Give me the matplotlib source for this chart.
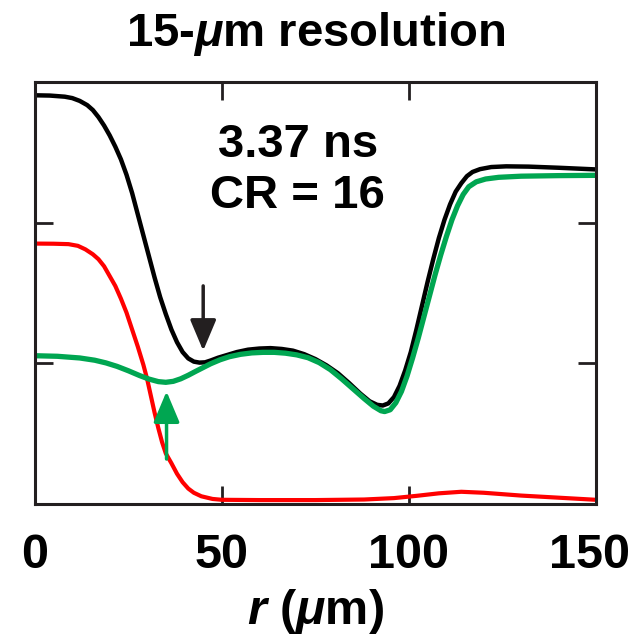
import matplotlib.pyplot as plt
import matplotlib.transforms as mtransforms

# radius (um) and profile values
r_black = [0, 4, 8, 10, 12, 14, 15.5, 17, 18.5, 20, 21.5, 23, 24.5, 26, 27.5, 29, 30.5, 32, 33.5,
           35, 36.5, 38, 39.5, 41, 42.5, 44, 45.5, 47, 49, 51.5, 54, 57, 60, 63, 66, 69, 72, 75,
           78, 81, 84, 87, 89.5, 91.5, 93, 94.5, 96, 97.5, 99, 100.5, 102, 103.5, 105, 106.5, 108,
           109.5, 111, 112.5, 114, 115.5, 117, 119, 122, 126, 132, 140, 150]
y_black = [2.905, 2.903, 2.895, 2.885, 2.865, 2.835, 2.80, 2.75, 2.69, 2.62, 2.54, 2.45, 2.34,
           2.21, 2.06, 1.91, 1.76, 1.61, 1.47, 1.35, 1.24, 1.15, 1.08, 1.035, 1.012, 1.005, 1.007,
           1.02, 1.04, 1.06, 1.08, 1.097, 1.105, 1.108, 1.102, 1.09, 1.065, 1.03, 0.985, 0.93,
           0.86, 0.785, 0.73, 0.705, 0.70, 0.715, 0.76, 0.84, 0.95, 1.08, 1.24, 1.41, 1.58, 1.74,
           1.89, 2.02, 2.13, 2.22, 2.28, 2.33, 2.36, 2.38, 2.395, 2.40, 2.398, 2.39, 2.378]

r_red = [0, 5, 9, 11.5, 13.5, 15.5, 17, 18.5, 20, 21.5, 23, 24.5, 26, 27.5, 29, 30, 31, 32, 33,
         34, 35, 36.5, 38, 39.5, 41, 42.5, 44.5, 47.5, 50, 60, 75, 88, 96, 102, 108, 114, 120,
         130, 140, 150]
y_red = [1.851, 1.85, 1.847, 1.835, 1.81, 1.775, 1.74, 1.69, 1.62, 1.55, 1.46, 1.36, 1.24, 1.12,
         0.99, 0.89, 0.77, 0.65, 0.54, 0.44, 0.36, 0.29, 0.215, 0.155, 0.11, 0.08, 0.055, 0.036,
         0.03, 0.028, 0.028, 0.032, 0.042, 0.058, 0.076, 0.087, 0.08, 0.06, 0.045, 0.03]

r_green = [0, 6, 12, 16, 19, 22, 25, 28, 30.5, 33, 35, 37, 39, 41, 43, 45, 47, 49.5, 52, 55, 58,
           61, 64, 67, 70, 73, 76, 79, 82, 85, 88, 90.5, 92.5, 93.5, 95, 96.5, 98, 99.5, 101,
           102.5, 104, 105.5, 107, 108.5, 110, 111.5, 113, 114.5, 116, 118, 120.5, 124, 130,
           140, 150]
y_green = [1.054, 1.05, 1.038, 1.022, 1.003, 0.978, 0.947, 0.913, 0.888, 0.87, 0.865, 0.872,
           0.89, 0.915, 0.943, 0.97, 0.997, 1.025, 1.047, 1.064, 1.074, 1.078, 1.078, 1.072,
           1.06, 1.04, 1.005, 0.955, 0.89, 0.82, 0.75, 0.695, 0.663, 0.657, 0.67, 0.72, 0.80,
           0.91, 1.04, 1.18, 1.33, 1.48, 1.63, 1.77, 1.90, 2.02, 2.12, 2.20, 2.255, 2.29, 2.31,
           2.322, 2.33, 2.334, 2.336]

green = '#00a651'
plt.rcParams['font.family'] = ['Liberation Sans', 'DejaVu Sans']
plt.rcParams['mathtext.fontset'] = 'custom'
plt.rcParams['mathtext.it'] = 'Liberation Sans:italic:bold'
plt.rcParams['mathtext.rm'] = 'Liberation Sans:bold'

fig = plt.figure(figsize=(6.34, 6.41), dpi=100)
ax = fig.add_axes([0.055, 0.2137, 0.885, 0.6585])

ax.plot(r_red, y_red, color='#ff0000', lw=3, solid_joinstyle='round')
ax.plot(r_black, y_black, color='black', lw=3.2, solid_joinstyle='round')
ax.plot(r_green, y_green, color=green, lw=3.8, solid_joinstyle='round')

ax.annotate('', xy=(45, 1.07), xytext=(45, 1.57),
            arrowprops=dict(arrowstyle='-|>,head_length=1.9,head_width=0.8', color='#231f20', lw=2.5))
ax.annotate('', xy=(35.2, 0.82), xytext=(35.2, 0.30),
            arrowprops=dict(arrowstyle='-|>,head_length=1.9,head_width=0.8', color=green, lw=2.5))

ax.text(70.3, 2.37, '3.37 ns\nCR = 16', ha='center', va='center', fontsize=34,
        fontweight='bold', linespacing=1.2)

ax.set_xlim(0, 150)
ax.set_ylim(0, 3)
ax.set_xticks([0, 50, 100, 150])
ax.set_yticks([1, 2])
ax.set_yticklabels([])
ax.tick_params(direction='in', length=13, width=2, top=True, right=True,
               labelsize=35, pad=21, color='#231f20')
for lbl in ax.get_xticklabels():
    lbl.set_fontweight('bold')
last = ax.get_xticklabels()[-1]
last.set_transform(last.get_transform() + mtransforms.ScaledTranslation(-6 / 100, 0, fig.dpi_scale_trans))
for s in ax.spines.values():
    s.set_linewidth(2.2)
    s.set_color('#231f20')

ax.set_xlabel(r'$r$ ($\mu$m)', fontsize=35, fontweight='bold', labelpad=6)
ax.set_title(r'15-$\mu$m resolution', fontsize=34, fontweight='bold', pad=26)

fig.savefig('out.png', dpi=100)
